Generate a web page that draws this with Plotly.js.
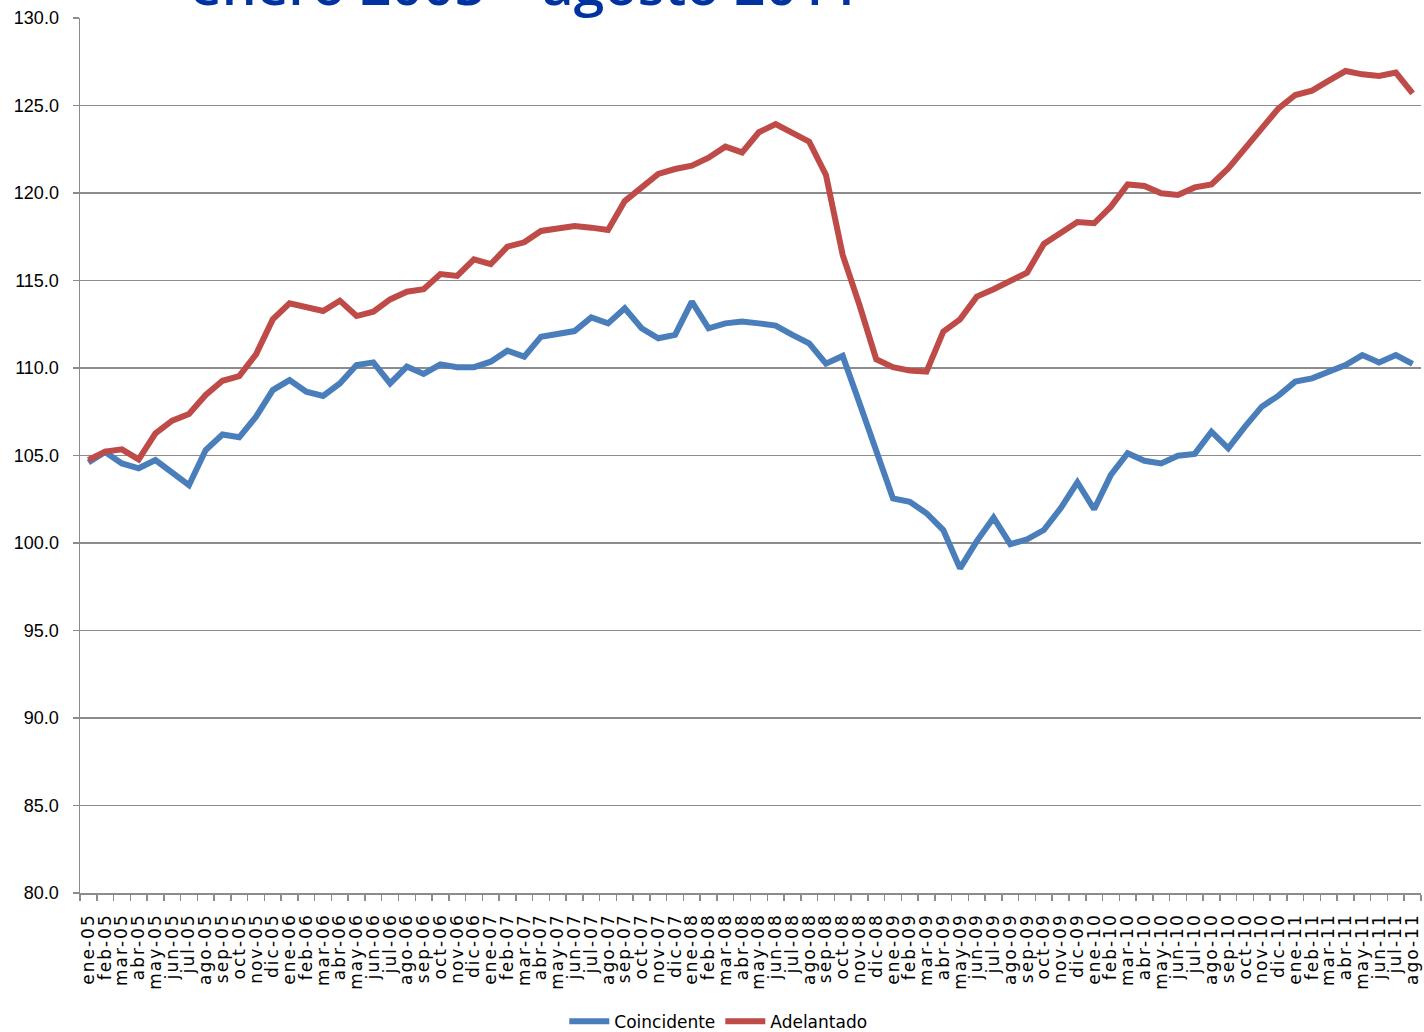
<!DOCTYPE html>
<html>
<head>
<meta charset="utf-8">
<script src="https://cdn.plot.ly/plotly-3.0.1.min.js"></script>
<style>
html, body { margin: 0; padding: 0; background: #ffffff; }
#chart { width: 1424px; height: 1032px; }
.xtick text { letter-spacing: 2px; }
</style>
</head>
<body>
<div id="chart"></div>
<script>
const titleText = "enero 2005 – agosto 2011";

const months = [
  "ene-05","feb-05","mar-05","abr-05","may-05","jun-05","jul-05","ago-05","sep-05","oct-05","nov-05","dic-05",
  "ene-06","feb-06","mar-06","abr-06","may-06","jun-06","jul-06","ago-06","sep-06","oct-06","nov-06","dic-06",
  "ene-07","feb-07","mar-07","abr-07","may-07","jun-07","jul-07","ago-07","sep-07","oct-07","nov-07","dic-07",
  "ene-08","feb-08","mar-08","abr-08","may-08","jun-08","jul-08","ago-08","sep-08","oct-08","nov-08","dic-08",
  "ene-09","feb-09","mar-09","abr-09","may-09","jun-09","jul-09","ago-09","sep-09","oct-09","nov-09","dic-09",
  "ene-10","feb-10","mar-10","abr-10","may-10","jun-10","jul-10","ago-10","sep-10","oct-10","nov-10","dic-10",
  "ene-11","feb-11","mar-11","abr-11","may-11","jun-11","jul-11","ago-11"
];

const coincidente = [
  104.6,105.2,104.55,104.27,104.74,104.07,103.3,105.31,106.2,106.04,107.22,108.74,
  109.31,108.65,108.4,109.12,110.17,110.32,109.12,110.08,109.66,110.21,110.05,110.05,
  110.36,110.99,110.65,111.79,111.92,112.11,112.89,112.55,113.41,112.27,111.7,111.89,
  113.79,112.27,112.55,112.65,112.55,112.42,111.89,111.41,110.25,110.69,108.0,105.3,
  102.55,102.36,101.7,100.74,98.55,100.11,101.45,99.93,100.21,100.74,101.98,103.47,
  101.93,103.89,105.13,104.7,104.55,104.99,105.09,106.36,105.41,106.65,107.79,108.42,
  109.22,109.41,109.79,110.17,110.74,110.32,110.74,110.23
];

const adelantado = [
  104.74,105.22,105.35,104.78,106.27,106.99,107.37,108.46,109.27,109.54,110.78,112.78,
  113.7,113.47,113.26,113.85,112.97,113.22,113.92,114.36,114.5,115.37,115.26,116.21,
  115.93,116.93,117.18,117.83,117.94,118.11,118.02,117.89,119.54,120.32,121.09,121.37,
  121.56,122.02,122.65,122.32,123.47,123.94,123.45,122.93,121.03,116.46,113.6,110.5,
  110.05,109.85,109.79,112.08,112.78,114.08,114.5,114.99,115.45,117.09,117.75,118.34,
  118.27,119.22,120.49,120.4,119.98,119.89,120.32,120.49,121.41,122.55,123.75,124.84,
  125.6,125.85,126.42,126.97,126.78,126.69,126.88,125.69
];

const traces = [
  { type: "scatter", mode: "lines", name: "Coincidente", x: months, y: coincidente,
    line: { color: "#4a7ebb", width: 6 } },
  { type: "scatter", mode: "lines", name: "Adelantado", x: months, y: adelantado,
    line: { color: "#be4b48", width: 6 } }
];

const layout = {
  width: 1424, height: 1032,
  paper_bgcolor: "#ffffff", plot_bgcolor: "#ffffff",
  margin: { l: 80, r: 3, t: 18, b: 139, pad: 0, autoexpand: false },
  font: { family: "Liberation Sans, Arial, sans-serif", color: "#000000", size: 17 },
  annotations: [{
    text: titleText, showarrow: false,
    font: { family: "Open Sans, sans-serif", size: 55, color: "#0033a0", weight: 600 },
    xref: "paper", x: 0.332, xanchor: "center",
    yref: "paper", y: 1.039, yanchor: "middle"
  }],
  showlegend: true,
  legend: {
    orientation: "h", xref: "paper", x: 0.476, xanchor: "center",
    yref: "paper", y: -0.147, yanchor: "middle",
    font: { family: "DejaVu Sans, sans-serif", size: 17, color: "#000000" },
    itemwidth: 40, tracegroupgap: 0, bgcolor: "rgba(0,0,0,0)"
  },
  xaxis: {
    type: "category",
    tickmode: "array", tickvals: months, ticktext: months,
    tickangle: -90,
    tickson: "boundaries",
    ticks: "outside", ticklen: 6, tickcolor: "#8c8c8c", tickwidth: 1.5,
    ticklabelstandoff: 12,
    showline: true, linecolor: "#8c8c8c", linewidth: 1.5,
    showgrid: false, zeroline: false,
    tickfont: { family: "DejaVu Sans, sans-serif", size: 17, color: "#000000" },
    range: [-0.5, 79.5],
    automargin: false
  },
  yaxis: {
    range: [80, 130], dtick: 5, tick0: 80, tickformat: ".1f",
    ticks: "outside", ticklen: 6, tickcolor: "#8c8c8c", tickwidth: 1.5,
    ticklabelstandoff: 10,
    showline: true, linecolor: "#8c8c8c", linewidth: 1.5,
    showgrid: true, gridcolor: "#8c8c8c", gridwidth: 1.5,
    zeroline: false,
    tickfont: { family: "Liberation Sans, Arial, sans-serif", size: 18, color: "#000000" },
    automargin: false
  }
};

Plotly.newPlot("chart", traces, layout, { displayModeBar: false, staticPlot: true });
</script>
</body>
</html>
